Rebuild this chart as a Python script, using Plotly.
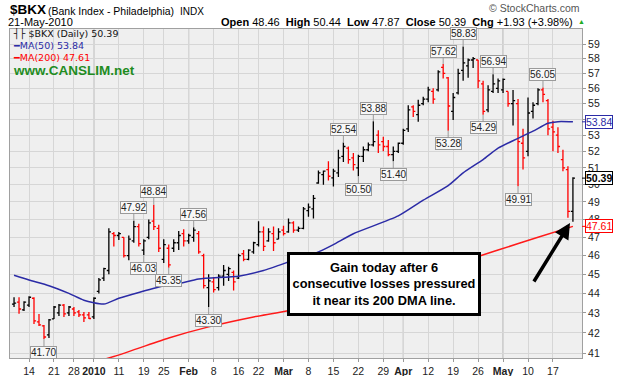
import numpy as np
import pandas as pd
import plotly.graph_objects as go

# ---------------- data ----------------
holidays = ["2009-12-25", "2010-01-01", "2010-01-18", "2010-02-15", "2010-04-02"]
trade_dates = [d.strftime("%Y-%m-%d") for d in pd.bdate_range("2009-12-09", "2010-05-21")
               if d.strftime("%Y-%m-%d") not in holidays]

open_ = [43.45, 43.55, 43.15, 43.4, 43.75, 42.55, 42.35, 41.9, 42.7, 43.0, 43.4, 43.0, 43.2, 43.05, 42.9, 42.9,
         42.8, 44.1, 44.8, 45.2, 47.2, 47.1, 47.0, 46.0, 46.8, 47.6, 46.3, 47.0, 47.9, 47.5, 45.8, 46.4,
         46.4, 46.7, 47.2, 46.8, 47.0, 47.2, 46.0, 44.3, 44.6, 44.3, 44.9, 45.0, 45.1, 44.8, 46.1, 45.8,
         46.2, 46.6, 47.3, 46.8, 47.2, 46.9, 47.4, 47.3, 47.8, 47.4, 47.5, 48.5, 48.6, 50.1, 50.6, 50.9,
         50.4, 50.7, 51.7, 52.2, 51.6, 51.0, 51.7, 52.1, 52.4, 53.0, 52.6, 52.3, 51.8, 52.0, 52.5, 53.4,
         54.8, 54.3, 55.0, 55.3, 55.8, 55.9, 57.4, 56.7, 54.5, 55.7, 57.2, 57.5, 57.9, 57.9, 56.3, 54.6,
         55.8, 56.0, 55.9, 55.8, 55.0, 55.0, 52.5, 52.0, 54.5, 55.0, 55.9, 55.2, 53.5, 53.0, 51.5, 50.9,
         48.46]
high = [43.8, 43.8, 43.6, 43.85, 43.8, 42.95, 42.4, 42.7, 43.35, 43.45, 43.45, 43.35, 43.3, 43.15, 43.05, 43.05,
        43.8, 44.8, 45.35, 47.5, 47.3, 47.3, 47.0, 47.1, 47.92, 47.75, 46.9, 48.0, 48.84, 47.7, 46.9, 46.6,
        46.9, 47.35, 47.45, 47.2, 47.56, 47.35, 46.1, 45.0, 44.85, 45.0, 45.5, 45.4, 45.2, 46.1, 46.3, 46.35,
        46.75, 47.9, 47.6, 47.5, 47.6, 47.5, 47.65, 48.05, 47.9, 47.6, 48.7, 48.9, 49.4, 50.85, 50.85, 51.4,
        50.95, 52.1, 52.54, 52.3, 51.9, 51.8, 52.3, 52.55, 53.88, 53.3, 52.9, 52.7, 52.3, 52.55, 53.4, 54.9,
        54.9, 55.25, 55.45, 56.1, 56.0, 57.2, 57.62, 56.75, 55.7, 57.3, 58.83, 58.0, 58.1, 57.9, 56.5, 56.2,
        56.94, 56.65, 56.65, 55.8, 55.9, 55.3, 53.4, 55.4, 55.1, 56.0, 56.05, 55.3, 53.9, 53.5, 52.1, 51.1,
        50.44]
low = [43.3, 42.96, 43.1, 43.3, 42.45, 42.35, 41.70, 41.75, 42.7, 42.85, 42.8, 42.85, 42.85, 42.8, 42.55, 42.7,
       42.7, 44.0, 44.65, 45.0, 46.5, 46.85, 45.9, 45.75, 46.7, 46.5, 46.03, 46.9, 47.4, 46.2, 45.6, 45.35,
       46.2, 46.3, 46.5, 46.65, 46.75, 46.1, 44.25, 43.30, 44.05, 44.15, 44.4, 44.65, 44.15, 44.75, 45.7, 45.75,
       46.1, 46.5, 46.25, 46.75, 46.25, 46.9, 47.1, 47.25, 47.25, 47.3, 47.45, 48.15, 48.05, 50.05, 50.0, 50.25,
       49.9, 50.45, 51.35, 51.25, 50.85, 50.50, 51.35, 52.0, 52.3, 51.9, 52.0, 51.7, 51.40, 51.9, 52.4, 53.2,
       54.15, 53.85, 54.9, 55.1, 55.0, 55.8, 56.65, 53.28, 53.95, 55.6, 56.5, 56.7, 57.35, 56.0, 54.29, 54.45,
       55.7, 55.7, 55.7, 54.8, 53.6, 49.91, 50.9, 51.7, 54.05, 54.9, 55.1, 53.0, 52.0, 51.9, 50.8, 48.1,
       47.87]
close = [43.5, 43.2, 43.55, 43.8, 42.6, 42.4, 41.8, 42.65, 43.3, 43.4, 42.95, 43.3, 43.0, 42.9, 42.75, 42.72,
         43.75, 44.7, 45.3, 47.3, 47.1, 47.2, 46.0, 46.9, 47.6, 46.65, 46.8, 47.8, 47.6, 46.4, 46.6, 45.5,
         46.7, 47.1, 46.8, 47.1, 47.4, 46.2, 44.4, 44.65, 44.2, 44.9, 45.2, 45.3, 44.6, 46.0, 45.8, 46.3,
         46.7, 47.3, 46.5, 47.3, 46.7, 47.3, 47.2, 47.8, 47.4, 47.5, 48.6, 48.7, 49.2, 50.7, 50.8, 50.5,
         50.8, 51.6, 52.3, 51.5, 51.2, 51.7, 52.1, 52.4, 52.6, 52.4, 52.3, 51.8, 52.0, 52.5, 53.3, 54.6,
         54.5, 54.9, 55.3, 55.9, 55.3, 57.1, 57.0, 54.85, 55.4, 57.0, 57.7, 57.9, 58.0, 56.5, 54.5, 55.9,
         56.3, 56.5, 56.6, 55.0, 55.2, 52.6, 51.6, 54.4, 54.9, 55.9, 55.6, 53.4, 53.2, 52.3, 51.0, 48.46,
         50.39]

ma50_dates = ["2009-12-09", "2009-12-14", "2009-12-18", "2009-12-24", "2009-12-30", "2010-01-06", "2010-01-11",
              "2010-01-15", "2010-01-25", "2010-01-28", "2010-02-03", "2010-02-16", "2010-02-23", "2010-03-03",
              "2010-03-10", "2010-03-15", "2010-03-19", "2010-04-01", "2010-04-09", "2010-04-16", "2010-04-21",
              "2010-04-27", "2010-04-30", "2010-05-06", "2010-05-11", "2010-05-14", "2010-05-18", "2010-05-21"]
ma50_vals = [44.95, 44.7, 44.4, 44.0, 43.65, 43.45, 43.75, 44.05, 44.4, 44.5, 44.75, 44.9, 45.2, 45.75,
             46.2, 46.6, 47.2, 48.2, 49.1, 49.95, 50.7, 51.5, 52.2, 52.8, 53.25, 53.75, 53.85, 53.84]

ma200_dates = ["2009-12-09", "2010-01-08", "2010-01-26", "2010-02-05", "2010-02-19", "2010-03-08", "2010-03-16",
               "2010-03-22", "2010-03-29", "2010-04-06", "2010-04-13", "2010-04-26", "2010-04-30", "2010-05-12",
               "2010-05-21"]
ma200_vals = [39.6, 40.85, 41.75, 42.3, 42.8, 43.3, 43.65, 43.95, 44.3, 44.75, 45.2, 45.95, 46.3, 47.0, 47.61]

hi_label_dates = ["2010-01-14", "2010-01-21", "2010-02-02", "2010-03-17", "2010-03-25", "2010-04-15",
                  "2010-04-21", "2010-04-29", "2010-05-13"]
lo_label_dates = ["2009-12-17", "2010-01-19", "2010-01-26", "2010-02-05", "2010-03-22", "2010-03-31",
                  "2010-04-16", "2010-04-27", "2010-05-06"]

tick_dates = ["2009-12-14", "2009-12-21", "2009-12-28", "2010-01-04", "2010-01-11", "2010-01-19", "2010-01-25",
              "2010-02-01", "2010-02-08", "2010-02-16", "2010-02-22", "2010-03-01", "2010-03-08", "2010-03-15",
              "2010-03-22", "2010-03-29", "2010-04-05", "2010-04-12", "2010-04-19", "2010-04-26", "2010-05-03",
              "2010-05-10", "2010-05-17"]
tick_labels = ["14", "21", "28", "<b>2010</b>", "11", "19", "25", "<b>Feb</b>", "8", "16", "22", "<b>Mar</b>",
               "8", "15", "22", "29", "<b>Apr</b>", "12", "19", "26", "<b>May</b>", "10", "17"]
month_dates = ["2010-01-04", "2010-02-01", "2010-03-01", "2010-04-05", "2010-05-03"]
y_ticks = list(range(41, 60))

# ---------------- figure ----------------
W, H = 618, 376
L, R, T, B = 10, 36, 29, 18
pw, ph = W - L - R, H - T - B


def px2x(px):
    return (px - L) / pw


def px2y(py):
    return (H - B - py) / ph


pos = {d: i for i, d in enumerate(trade_dates)}
xs = list(range(len(trade_dates)))
prev = [None] + close[:-1]
up = [i for i in xs if prev[i] is None or close[i] >= prev[i]]
dn = [i for i in xs if not (prev[i] is None or close[i] >= prev[i])]

fig = go.Figure()
for idxs, col in ((up, "#000000"), (dn, "#ff0000")):
    fig.add_trace(go.Ohlc(
        x=[xs[i] for i in idxs], open=[open_[i] for i in idxs], high=[high[i] for i in idxs],
        low=[low[i] for i in idxs], close=[close[i] for i in idxs],
        increasing=dict(line=dict(color=col, width=1.3)),
        decreasing=dict(line=dict(color=col, width=1.3)),
        tickwidth=0.42, showlegend=False, hoverinfo="skip"))

fig.add_trace(go.Scatter(x=[pos[d] for d in ma50_dates], y=ma50_vals, mode="lines",
                         line=dict(color="#2b2ba6", width=1.5, shape="spline", smoothing=0.6),
                         showlegend=False, hoverinfo="skip"))
fig.add_trace(go.Scatter(x=[pos[d] for d in ma200_dates], y=ma200_vals, mode="lines",
                         line=dict(color="#ff1a1a", width=1.5, shape="spline", smoothing=0.6),
                         showlegend=False, hoverinfo="skip"))

shapes = []
for d in month_dates:
    shapes.append(dict(type="line", xref="x", yref="paper", x0=pos[d], x1=pos[d], y0=0, y1=1,
                       line=dict(color="#a9a9a9", width=1), layer="below"))

ann = []
lab_font = dict(family="Liberation Sans, Arial", size=10, color="#222222")
for d in hi_label_dates:
    i = pos[d]
    ann.append(dict(x=i, y=np.log10(high[i]), xref="x", yref="y", text=f"{high[i]:.2f}",
                    showarrow=True, ax=0, ay=-13, arrowhead=0, arrowwidth=1, arrowcolor="#9a9a9a",
                    font=lab_font, bgcolor="#f7f7f7", bordercolor="#9a9a9a", borderwidth=1, borderpad=0))
for d in lo_label_dates:
    i = pos[d]
    ann.append(dict(x=i, y=np.log10(low[i]), xref="x", yref="y", text=f"{low[i]:.2f}",
                    showarrow=True, ax=0, ay=13, arrowhead=0, arrowwidth=1, arrowcolor="#9a9a9a",
                    font=lab_font, bgcolor="#f7f7f7", bordercolor="#9a9a9a", borderwidth=1, borderpad=0))

# right-hand value tags
tags = [(ma50_vals[-1], "#2b2ba6", f"{ma50_vals[-1]:.2f}"),
        (close[-1], "#000000", f"<b>{close[-1]:.2f}</b>"),
        (ma200_vals[-1], "#ff0000", f"{ma200_vals[-1]:.2f}")]
for v, c, t in tags:
    ann.append(dict(x=1, y=np.log10(v), xref="paper", yref="y", text=t, showarrow=True, ax=3, ay=0,
                    xanchor="left", arrowhead=0, arrowwidth=1, arrowcolor=c,
                    font=dict(family="Liberation Sans, Arial", size=10.5, color=c),
                    bgcolor="#ffffff", bordercolor=c, borderwidth=1, borderpad=0))

hdr = "Liberation Sans, Arial"


def txt(px, py, text, size, color="#000000", anchor="left", family=hdr):
    ann.append(dict(x=px2x(px), y=px2y(py), xref="paper", yref="paper", text=text, showarrow=False,
                    xanchor=anchor, yanchor="middle", font=dict(family=family, size=size, color=color)))


txt(8, 10, "<b>$BKX</b>", 13.5)
txt(46, 11, "(Bank Index - Philadelphia)", 10.5)
txt(178, 11, "INDX", 10)
txt(6, 22, "21-May-2010", 11)
txt(575, 22, "<b>Open</b> 48.46  <b>High</b> 50.44  <b>Low</b> 47.87  <b>Close</b> 50.39  <b>Chg</b> +1.93 (+3.98%)",
    11, anchor="right")
txt(576, 21.5, "▲", 7, "#22aa22")
txt(582, 8, "© StockCharts.com", 10.5, "#555555", anchor="right")

txt(11, 34, "┤├ $BKX (Daily) 50.39", 9.5, "#111111", family="DejaVu Sans")
txt(11, 46, "━MA(50) 53.84", 9.5, "#2b2ba6", family="DejaVu Sans")
txt(11, 57.5, "━MA(200) 47.61", 9.5, "#ff0000", family="DejaVu Sans")
txt(11, 71, "<b>www.CANSLIM.net</b>", 13.5, "#1f8c1f")

# callout box and arrow
ann.append(dict(x=px2x(480.5), y=px2y(315.5), xref="paper", yref="paper",
                text="<b>Gain today after 6<br>consecutive losses pressured<br>it near its 200 DMA line.</b>",
                showarrow=False, align="center", width=186, height=56, borderpad=1,
                bgcolor="#ffffff", bordercolor="#000000", borderwidth=3,
                font=dict(family="Liberation Sans, Arial", size=12.8, color="#000000")))
ann.append(dict(x=px2x(570), y=px2y(223), xref="paper", yref="paper", text="", showarrow=True,
                ax=-37, ay=60, arrowhead=2, arrowsize=0.9, arrowwidth=3.5, arrowcolor="#000000"))

fig.update_layout(
    width=W, height=H, margin=dict(l=L, r=R, t=T, b=B, autoexpand=False),
    paper_bgcolor="#ffffff", plot_bgcolor="#efefef",
    shapes=shapes, annotations=ann, showlegend=False,
    xaxis=dict(range=[-0.81, len(trade_dates) + 0.82], tickmode="array",
               tickvals=[pos[d] for d in tick_dates], ticktext=tick_labels,
               showgrid=True, gridcolor="#d6d6d6", gridwidth=1, zeroline=False,
               ticks="outside", ticklen=3, tickcolor="#999999", automargin=False,
               tickfont=dict(family="Liberation Sans, Arial", size=10.5, color="#222222"),
               showline=True, linecolor="#a0a0a0", mirror=True, rangeslider=dict(visible=False),
               fixedrange=True),
    yaxis=dict(type="log", range=[np.log10(40.78), np.log10(60.05)], side="right",
               tickmode="array", tickvals=y_ticks, ticktext=[str(v) for v in y_ticks],
               showgrid=True, gridcolor="#d6d6d6", gridwidth=1, zeroline=False,
               ticks="outside", ticklen=3, tickcolor="#999999", automargin=False,
               tickfont=dict(family="Liberation Sans, Arial", size=10.5, color="#222222"),
               showline=True, linecolor="#a0a0a0", mirror=True, fixedrange=True),
)

fig.write_html("out.html", config={"displayModeBar": False},
               post_script="document.body.style.margin='0px';document.body.style.overflow='hidden';")
